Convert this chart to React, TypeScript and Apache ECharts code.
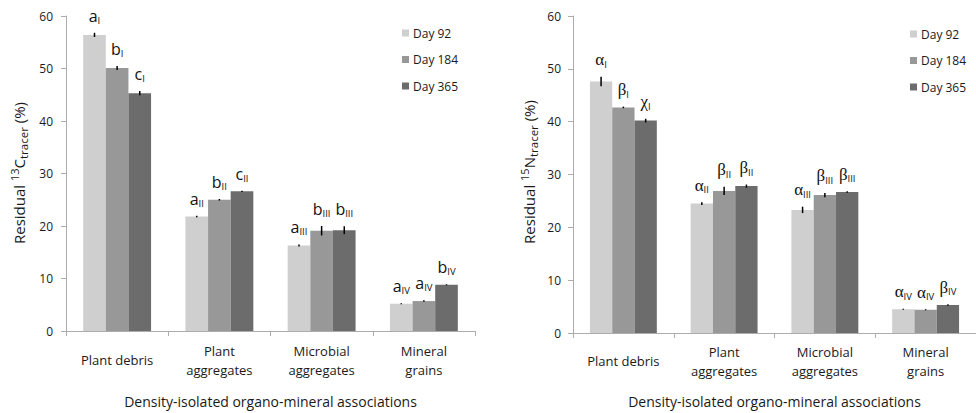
import React, { useEffect, useRef } from "react";
import * as echarts from "echarts";

// Fraction categories (x axis)
const categories = ["Plant debris", "Plant\naggregates", "Microbial\naggregates", "Mineral\ngrains"];
const dayNames = ["Day 92", "Day 184", "Day 365"];
const yTicks = { min: 0, max: 60, interval: 10 };

// Residual 13C tracer (%) per day
const c13Day92 = [56.4, 21.8, 16.3, 5.2];
const c13Day184 = [50.1, 25.0, 19.1, 5.7];
const c13Day365 = [45.3, 26.6, 19.2, 8.8];
const c13Err92 = [0.4, 0.15, 0.2, 0.1];
const c13Err184 = [0.4, 0.15, 0.9, 0.15];
const c13Err365 = [0.4, 0.1, 0.75, 0.1];
const c13Letters92 = ["a", "a", "a", "a"];
const c13Letters184 = ["b", "b", "b", "a"];
const c13Letters365 = ["c", "c", "b", "b"];

// Residual 15N tracer (%) per day
const n15Day92 = [47.6, 24.5, 23.3, 4.5];
const n15Day184 = [42.7, 26.9, 26.1, 4.4];
const n15Day365 = [40.2, 27.8, 26.7, 5.3];
const n15Err92 = [0.9, 0.25, 0.6, 0.1];
const n15Err184 = [0.15, 0.8, 0.4, 0.1];
const n15Err365 = [0.35, 0.3, 0.15, 0.15];
const n15Letters92 = ["α", "α", "α", "α"];
const n15Letters184 = ["β", "β", "β", "α"];
const n15Letters365 = ["χ", "β", "β", "β"];

// Roman-numeral subscripts, one per fraction
const groupNumerals = ["I", "II", "III", "IV"];

const barColors = ["#cfcfcf", "#989898", "#6c6c6c"];
const FONT = "'Open Sans', 'Noto Sans', sans-serif";
const CAT_GAP = 0.336;

function buildOption() {
  const panels = [
    {
      values: [c13Day92, c13Day184, c13Day365],
      errs: [c13Err92, c13Err184, c13Err365],
      letters: [c13Letters92, c13Letters184, c13Letters365],
      letterFont: FONT,
      letterSize: 16,
    },
    {
      values: [n15Day92, n15Day184, n15Day365],
      errs: [n15Err92, n15Err184, n15Err365],
      letters: [n15Letters92, n15Letters184, n15Letters365],
      letterFont: "'Liberation Serif', 'DejaVu Serif', serif",
      letterSize: 17,
    },
  ];

  const grids = [
    { left: 66, top: 16, width: 409, height: 316 },
    { left: 573, top: 16, width: 410, height: 317 },
  ];

  const xAxes = grids.map((_, gi) => ({
    type: "category",
    gridIndex: gi,
    data: categories,
    axisLine: { lineStyle: { color: "#acacac", width: 1 } },
    axisTick: { show: true, length: 5, lineStyle: { color: "#acacac" } },
    axisLabel: {
      color: "#1a1a1a",
      fontFamily: FONT,
      fontSize: 13,
      lineHeight: 19,
      verticalAlign: "middle",
      margin: gi === 0 ? 29 : 28,
      interval: 0,
    },
    name: "Density-isolated organo-mineral associations",
    nameLocation: "middle",
    nameGap: gi === 0 ? 70 : 68,
    nameTextStyle: { color: "#1a1a1a", fontFamily: FONT, fontSize: 14, verticalAlign: "middle" },
  }));

  const yAxes = grids.map((_, gi) => ({
    type: "value",
    gridIndex: gi,
    min: yTicks.min,
    max: yTicks.max,
    interval: yTicks.interval,
    splitLine: { show: false },
    axisLine: { show: true, lineStyle: { color: "#acacac", width: 1 } },
    axisTick: { show: true, length: 5, lineStyle: { color: "#acacac" } },
    axisLabel: { color: "#1a1a1a", fontFamily: FONT, fontSize: 12, margin: gi === 0 ? 13 : 12 },
  }));

  const series: any[] = [];
  panels.forEach((p, gi) => {
    p.values.forEach((vals, k) => {
      series.push({
        type: "bar",
        name: dayNames[k],
        xAxisIndex: gi,
        yAxisIndex: gi,
        data: vals,
        barGap: "0%",
        barCategoryGap: `${CAT_GAP * 100}%`,
        itemStyle: { color: barColors[k] },
        emphasis: { disabled: true },
      });
    });
    p.values.forEach((vals, k) => {
      const letters = p.letters[k];
      series.push({
        type: "custom",
        name: dayNames[k] + " error",
        xAxisIndex: gi,
        yAxisIndex: gi,
        z: 5,
        data: vals.map((v, i) => [i, v, p.errs[k][i]]),
        encode: { x: 0, y: 1 },
        renderItem: (params: any, api: any) => {
          const ci = api.value(0);
          const v = api.value(1);
          const e = api.value(2);
          const center = api.coord([ci, v]);
          const band = api.size([1, 0])[0];
          const bw = (band * (1 - CAT_GAP)) / 3;
          const x = center[0] + (k - 1) * bw;
          const yTop = api.coord([ci, v + e])[1];
          const yBot = api.coord([ci, v - e])[1];
          const idx = params.dataIndex;
          return {
            type: "group",
            children: [
              {
                type: "line",
                shape: { x1: x, y1: yTop, x2: x, y2: yBot },
                style: { stroke: "#000", lineWidth: 1.5 },
              },
              {
                type: "text",
                x,
                y: yTop - 8,
                style: {
                  text: `{m|${letters[idx]}}{s|${groupNumerals[idx]}}`,
                  align: "center",
                  verticalAlign: "bottom",
                  rich: {
                    m: { fontFamily: p.letterFont, fontSize: p.letterSize, fill: "#111", lineHeight: 18 },
                    s: { fontFamily: FONT, fontSize: 9.5, fill: "#111", lineHeight: 10, padding: [9, 0, 0, 0] },
                  },
                },
              },
            ],
          };
        },
      });
    });
  });

  const titleRich = {
    n: { fontFamily: FONT, fontSize: 15, fill: "#1a1a1a", lineHeight: 22 },
    sup: { fontFamily: FONT, fontSize: 11, fill: "#1a1a1a", lineHeight: 12, padding: [0, 0, 9, 0] },
    sub: { fontFamily: FONT, fontSize: 11.5, fill: "#1a1a1a", lineHeight: 12, padding: [9, 0, 0, 0] },
  };

  const legends = [
    { left: 397, top: 22 },
    { left: 905, top: 23 },
  ].map((pos) => ({
    ...pos,
    orient: "vertical",
    data: dayNames,
    itemWidth: 7,
    itemHeight: 7,
    itemGap: 14.5,
    icon: "rect",
    selectedMode: false,
    textStyle: { fontFamily: FONT, fontSize: 12, color: "#1a1a1a", padding: [0, 0, 0, -1] },
  }));

  return {
    animation: false,
    backgroundColor: "#ffffff",
    grid: grids,
    xAxis: xAxes,
    yAxis: yAxes,
    legend: legends,
    series,
    graphic: [
      {
        type: "text",
        x: 19,
        y: 173,
        rotation: Math.PI / 2,
        style: {
          text: "{n|Residual }{sup|13}{n|C}{sub|tracer}{n| (%)}",
          align: "center",
          verticalAlign: "middle",
          rich: titleRich,
        },
      },
      {
        type: "text",
        x: 529,
        y: 172,
        rotation: Math.PI / 2,
        style: {
          text: "{n|Residual }{sup|15}{n|N}{sub|tracer}{n| (%)}",
          align: "center",
          verticalAlign: "middle",
          rich: titleRich,
        },
      },
    ],
  };
}

export default function App() {
  const ref = useRef<HTMLDivElement>(null);
  useEffect(() => {
    if (!ref.current) return;
    const chart = echarts.init(ref.current, undefined, { renderer: "svg" });
    chart.setOption(buildOption() as any);
    return () => chart.dispose();
  }, []);
  return (
    <div
      ref={ref}
      style={{ position: "absolute", left: 0, top: 0, width: 976, height: 413, background: "#fff" }}
    />
  );
}
